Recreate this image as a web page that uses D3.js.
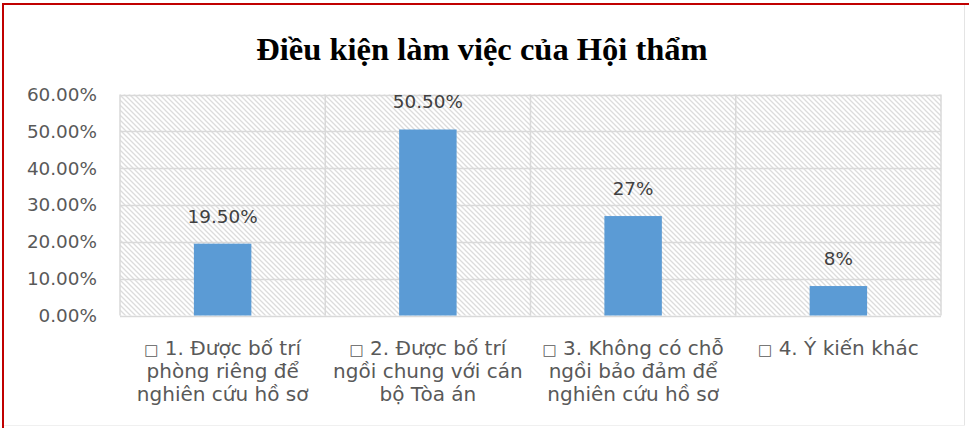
<!DOCTYPE html>
<html>
<head>
<meta charset="utf-8">
<script src="https://cdn.jsdelivr.net/npm/d3@7"></script>
<style>
  body { margin: 0; background: #fff; }
  svg { display: block; }
  .tick text { font-family: "DejaVu Sans", sans-serif; }
</style>
</head>
<body>
<div id="chart"></div>
<script>
var title = "Điều kiện làm việc của Hội thẩm",
    categories = [
      ["□ 1. Được bố trí", "phòng riêng để", "nghiên cứu hồ sơ"],
      ["□ 2. Được bố trí", "ngồi chung với cán", "bộ Tòa án"],
      ["□ 3. Không có chỗ", "ngồi bảo đảm để", "nghiên cứu hồ sơ"],
      ["□ 4. Ý kiến khác"]
    ],
    values = [0.195, 0.505, 0.27, 0.08],
    valueLabels = ["19.50%", "50.50%", "27%", "8%"],
    yTicks = [0, 0.1, 0.2, 0.3, 0.4, 0.5, 0.6];

var width = 969, height = 428,
    plot = { left: 120, right: 941, top: 94.5, bottom: 315.5 },
    barColor = "#5b9bd5",
    gridColor = "#d9d9d9";

const svg = d3.select("#chart").append("svg")
    .attr("width", width)
    .attr("height", height);

// hatch fill of the plot area
var defs = svg.append("defs");
var pat = defs.append("pattern")
    .attr("id", "hatch")
    .attr("patternUnits", "userSpaceOnUse")
    .attr("width", 5)
    .attr("height", 5);
pat.append("rect").attr("width", 5).attr("height", 5).attr("fill", "#fff");
pat.append("path")
    .attr("d", "M-1,-1L6,6M-1,4L1,6M4,-1L6,1")
    .attr("stroke", "#dcdcdc")
    .attr("stroke-width", 1.3);

// outer frame
svg.append("rect").attr("width", width).attr("height", height).attr("fill", "#fff");
svg.append("line").attr("x1", 964.5).attr("x2", 964.5).attr("y1", 4).attr("y2", 426)
    .attr("stroke", "#e4e4e4");
svg.append("line").attr("x1", 4).attr("x2", 965).attr("y1", 425.5).attr("y2", 425.5)
    .attr("stroke", "#f0f0f0");
svg.append("line").attr("x1", 3).attr("x2", 3).attr("y1", 3).attr("y2", height)
    .attr("stroke", "#c00000").attr("stroke-width", 2);
svg.append("line").attr("x1", 2).attr("x2", width).attr("y1", 4).attr("y2", 4)
    .attr("stroke", "#c00000").attr("stroke-width", 2);

var x = d3.scaleBand()
    .domain(d3.range(categories.length))
    .range([plot.left, plot.right]);

var xBar = d3.scaleBand()
    .domain(d3.range(categories.length))
    .range([plot.left, plot.right])
    .paddingInner(0.72)
    .paddingOuter(0.36);

var y = d3.scaleLinear()
    .domain([0, 0.6])
    .range([plot.bottom, plot.top]);

svg.append("rect")
    .attr("x", plot.left).attr("y", plot.top)
    .attr("width", plot.right - plot.left)
    .attr("height", plot.bottom - plot.top)
    .attr("fill", "url(#hatch)");

// horizontal gridlines
svg.append("g").selectAll("line")
    .data(yTicks)
    .enter().append("line")
      .attr("x1", plot.left).attr("x2", plot.right)
      .attr("y1", function(d) { return Math.round(y(d)) + 0.5; })
      .attr("y2", function(d) { return Math.round(y(d)) + 0.5; })
      .attr("stroke", gridColor)
      .attr("stroke-width", 1.5);

// vertical gridlines at category edges
svg.append("g").selectAll("line")
    .data(d3.range(categories.length + 1))
    .enter().append("line")
      .attr("x1", function(d) { return d < categories.length ? x(d) : plot.right; })
      .attr("x2", function(d) { return d < categories.length ? x(d) : plot.right; })
      .attr("y1", plot.top).attr("y2", plot.bottom)
      .attr("stroke", gridColor)
      .attr("stroke-width", 1.5);

// y axis labels
var yAxis = svg.append("g")
    .attr("transform", "translate(97,0)")
    .call(d3.axisLeft(y).tickValues(yTicks).tickSize(0).tickPadding(0).tickFormat(d3.format(".2%")));
yAxis.select(".domain").remove();
yAxis.selectAll("text")
    .attr("fill", "#595959")
    .style("font-size", "18.4px");

// bars
svg.append("g").selectAll("rect")
    .data(values)
    .enter().append("rect")
      .attr("x", function(d, i) { return xBar(i); })
      .attr("y", function(d) { return y(d); })
      .attr("width", xBar.bandwidth())
      .attr("height", function(d) { return y(0) - y(d); })
      .attr("fill", barColor);

// data labels
svg.append("g").selectAll("text")
    .data(values)
    .enter().append("text")
      .attr("x", function(d, i) { return xBar(i) + xBar.bandwidth() / 2; })
      .attr("y", function(d) { return y(d) - 21; })
      .attr("text-anchor", "middle")
      .attr("fill", "#404040")
      .style("font-family", "DejaVu Sans, sans-serif")
      .style("font-size", "18.4px")
      .text(function(d, i) { return valueLabels[i]; });

// category labels (the leading box glyph is drawn smaller, as in the original)
var catLabels = svg.append("g").selectAll("text")
    .data(categories)
    .enter().append("text")
      .attr("text-anchor", "middle")
      .attr("fill", "#595959")
      .style("font-family", "DejaVu Sans, sans-serif")
      .style("font-size", "20px");
catLabels.each(function(d, i) {
  var t = d3.select(this), cx = x(i) + x.bandwidth() / 2;
  d.forEach(function(line, j) {
    var row = t.append("tspan").attr("x", cx).attr("y", 355 + j * 22.8);
    if (line.charAt(0) == "□") {
      row.append("tspan").style("font-size", "15px").text("□");
      row.append("tspan").text(line.slice(1));
    } else {
      row.text(line);
    }
  });
});

// title
svg.append("text")
    .attr("x", 482)
    .attr("y", 60)
    .attr("text-anchor", "middle")
    .attr("fill", "#000")
    .style("font-family", "Liberation Serif, serif")
    .style("font-weight", "bold")
    .style("font-size", "32.5px")
    .text(title);
</script>
</body>
</html>
